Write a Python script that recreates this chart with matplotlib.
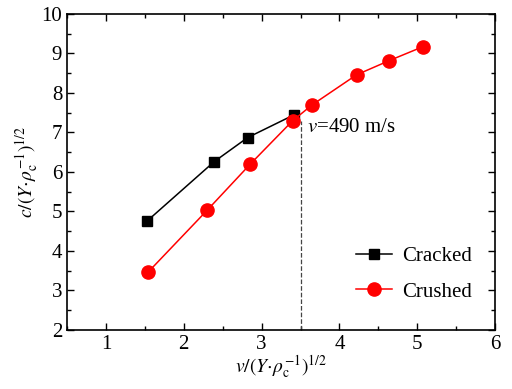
import numpy as np
import matplotlib
matplotlib.use('Agg')
import matplotlib.pyplot as plt
from matplotlib.ticker import MultipleLocator

plt.rcParams['font.family'] = 'Liberation Serif'
plt.rcParams['mathtext.fontset'] = 'stix'

# data
cracked_x = [1.53, 2.39, 2.82, 3.41]
cracked_y = [4.76, 6.26, 6.87, 7.44]
crushed_x = [1.54, 2.30, 2.85, 3.40, 3.65, 4.22, 4.64, 5.07]
crushed_y = [3.46, 5.03, 6.19, 7.30, 7.70, 8.46, 8.82, 9.17]
v_crit = 3.51

fig = plt.figure(figsize=(5.12, 3.89), dpi=100)
ax = fig.add_axes([0.131, 0.152, 0.836, 0.812])

ax.plot(cracked_x, cracked_y, 'k-s', lw=1.1, ms=7.5, label='Cracked')
ax.plot(crushed_x, crushed_y, '-o', color='red', lw=1.1, ms=9.5, label='Crushed')
ax.plot([v_crit, v_crit], [2, 7.3], '--', color='#444444', lw=0.9)
ax.text(3.58, 7.12, r'$v$=490 m/s', fontsize=15, va='center', ha='left')

ax.set_xlim(0.5, 6)
ax.set_ylim(2, 10)
ax.xaxis.set_major_locator(MultipleLocator(1))
ax.xaxis.set_minor_locator(MultipleLocator(0.5))
ax.yaxis.set_major_locator(MultipleLocator(1))
ax.yaxis.set_minor_locator(MultipleLocator(0.5))
ax.tick_params(which='both', direction='in', top=True, right=True, labelsize=15, width=1)
ax.tick_params(which='major', length=5)
ax.tick_params(which='minor', length=3)
for s in ax.spines.values():
    s.set_linewidth(1.2)

ax.set_xlabel(r'$v/(Y\!\cdot\!\rho_\mathrm{c}^{-1})^{1/2}$', fontsize=14, labelpad=0)
ax.set_ylabel(r'$c/(Y\!\cdot\!\rho_\mathrm{c}^{-1})^{1/2}$', fontsize=14, labelpad=0)

ax.legend(loc='lower right', frameon=False, fontsize=15, handlelength=1.7,
          handletextpad=0.5, labelspacing=0.75, bbox_to_anchor=(0.99, 0.03))

fig.savefig('out.png', dpi=100)
